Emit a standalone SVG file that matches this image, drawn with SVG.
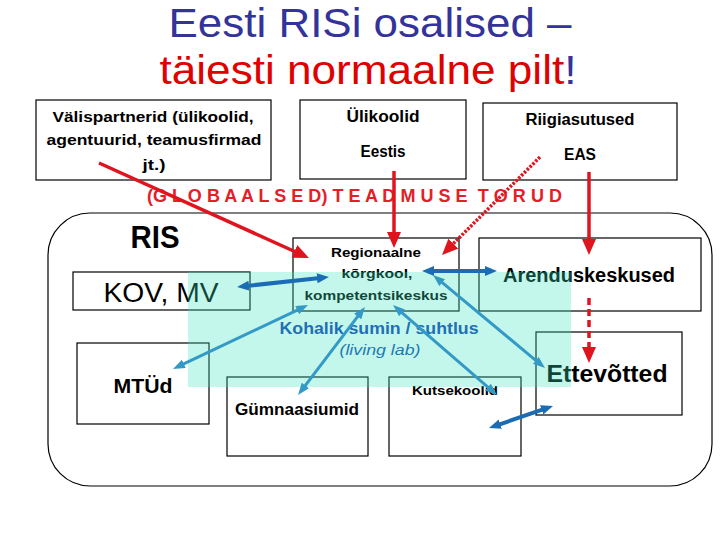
<svg xmlns="http://www.w3.org/2000/svg" width="720" height="540" viewBox="0 0 720 540">
<style>
.box{fill:#fff;stroke:#000;stroke-width:1.2}
.lbl{font-family:"Liberation Sans",Arial,sans-serif;font-weight:bold;fill:#000;text-anchor:middle}
.red{fill:none;stroke:#e0141e;stroke-width:3.5}
.blu{fill:none;stroke:#1a6cb5;stroke-width:4}
.cya{fill:none;stroke:#3399c6;stroke-width:3}
</style>
<defs>
<marker id="ar" markerUnits="userSpaceOnUse" markerWidth="16" markerHeight="14" refX="4" refY="7" orient="auto"><path d="M0,0 L16,7 L0,14 z" fill="#e0141e"/></marker>
<marker id="ab" markerUnits="userSpaceOnUse" markerWidth="12" markerHeight="10" refX="3" refY="5" orient="auto-start-reverse"><path d="M0,0 L12,5 L0,10 z" fill="#1a6cb5"/></marker>
<marker id="ac" markerUnits="userSpaceOnUse" markerWidth="12" markerHeight="9" refX="3" refY="4.5" orient="auto-start-reverse"><path d="M0,0 L12,4.5 L0,9 z" fill="#3399c6"/></marker>
</defs>
<rect width="720" height="540" fill="#fff"/>
<g id="title" font-family="'Liberation Sans',Arial,sans-serif" font-size="40" text-anchor="middle">
<text x="370" y="37" fill="#333399" textLength="403" lengthAdjust="spacingAndGlyphs">Eesti RISi osalised –</text>
<text x="368" y="84" textLength="417" lengthAdjust="spacingAndGlyphs"><tspan fill="#e00000">täiesti normaalne pilt</tspan><tspan fill="#333399">!</tspan></text>
</g>
<g id="ris-frame"><rect x="48" y="213" width="664" height="273" rx="42" ry="42" fill="#fff" stroke="#000" stroke-width="1.2"/></g>
<g id="valispartnerid">
<rect class="box" x="36" y="100" width="235" height="80"/>
<text class="lbl" font-size="15" x="153" y="122" textLength="201" lengthAdjust="spacingAndGlyphs">Välispartnerid (ülikoolid,</text>
<text class="lbl" font-size="15" x="154" y="145" textLength="215" lengthAdjust="spacingAndGlyphs">agentuurid, teamusfirmad</text>
<text class="lbl" font-size="15" x="154" y="170" textLength="23" lengthAdjust="spacingAndGlyphs">jt.)</text>
</g>
<g id="ulikoolid">
<rect class="box" x="300" y="100" width="166" height="79"/>
<text class="lbl" font-size="16" x="383" y="122" textLength="73" lengthAdjust="spacingAndGlyphs">Ülikoolid</text>
<text class="lbl" font-size="16" x="383" y="157" textLength="45" lengthAdjust="spacingAndGlyphs">Eestis</text>
</g>
<g id="riigiasutused">
<rect class="box" x="483" y="103" width="194" height="77"/>
<text class="lbl" font-size="16" x="580" y="125" textLength="109" lengthAdjust="spacingAndGlyphs">Riigiasutused</text>
<text class="lbl" font-size="16" x="580" y="160" textLength="32" lengthAdjust="spacingAndGlyphs">EAS</text>
</g>
<g id="torud"><text x="147" y="202" xml:space="preserve" style="white-space:pre" font-family="'Liberation Sans',Arial,sans-serif" font-weight="bold" font-size="18" fill="#e32028" textLength="415" lengthAdjust="spacing">(G L O B A A L S E D) T E A D M U S E  T O R U D</text></g>
<g id="ris-label"><text class="lbl" font-size="31" x="155" y="248" textLength="49" lengthAdjust="spacingAndGlyphs">RIS</text></g>
<g id="kov">
<rect class="box" x="73" y="272" width="177" height="38"/>
<text x="161" y="302" font-family="'Liberation Sans',Arial,sans-serif" font-size="27" text-anchor="middle" textLength="115" lengthAdjust="spacingAndGlyphs">KOV, MV</text>
</g>
<g id="regionaalne">
<rect class="box" x="293" y="238" width="166" height="73"/>
<text class="lbl" font-size="13.5" x="376" y="257" textLength="90" lengthAdjust="spacingAndGlyphs">Regionaalne</text>
<text class="lbl" font-size="13.5" x="377" y="278" textLength="71" lengthAdjust="spacingAndGlyphs">kõrgkool,</text>
<text class="lbl" font-size="13.5" x="376" y="300" textLength="143" lengthAdjust="spacingAndGlyphs">kompetentsikeskus</text>
</g>
<g id="arenduskeskused">
<rect class="box" x="479" y="238" width="222" height="73"/>
<text class="lbl" font-size="20" x="589" y="282" textLength="172" lengthAdjust="spacingAndGlyphs">Arenduskeskused</text>
</g>
<g id="mtud">
<rect class="box" x="77" y="343" width="132" height="81"/>
<text class="lbl" font-size="20" x="143" y="393" textLength="59" lengthAdjust="spacingAndGlyphs">MTÜd</text>
</g>
<g id="gymnaasiumid">
<rect class="box" x="227" y="377" width="141" height="79"/>
<text class="lbl" font-size="16" x="297" y="415" textLength="124" lengthAdjust="spacingAndGlyphs">Gümnaasiumid</text>
</g>
<g id="kutsekoolid">
<rect class="box" x="389" y="377" width="132" height="79"/>
<text class="lbl" font-size="13" x="455" y="395" textLength="86" lengthAdjust="spacingAndGlyphs">Kutsekoolid</text>
</g>
<g id="ettevotted">
<rect class="box" x="536" y="332" width="146" height="83"/>
<text class="lbl" font-size="24" x="607" y="382" textLength="121" lengthAdjust="spacingAndGlyphs">Ettevõtted</text>
</g>
<g id="kohalik-sumin">
<rect x="188" y="272" width="383" height="115" fill="rgb(60,230,190)" fill-opacity="0.3"/>
<text x="379" y="334" font-family="'Liberation Sans',Arial,sans-serif" font-weight="bold" font-size="16" fill="#1f6fb5" text-anchor="middle" textLength="199" lengthAdjust="spacingAndGlyphs">Kohalik sumin / suhtlus</text>
<text x="380" y="355" font-family="'Liberation Sans',Arial,sans-serif" font-style="italic" font-size="15" fill="#1f78b4" text-anchor="middle" textLength="81" lengthAdjust="spacingAndGlyphs">(living lab)</text>
</g>
<g id="connectors">
<path class="red" d="M99,163 L298,253" marker-end="url(#ar)"/>
<path class="red" d="M394,171 L394,236" marker-end="url(#ar)"/>
<path class="red" d="M589,172 L589,243" marker-end="url(#ar)"/>
<path class="red" d="M540,157 L450.5,246.5" stroke-width="4" stroke-dasharray="2.5 1.5" marker-end="url(#ar)"/>
<path class="red" d="M589,298 L589,351" stroke-width="4" stroke-dasharray="7 4" marker-end="url(#ar)"/>
<path class="blu" d="M246,286 L320,278" marker-start="url(#ab)" marker-end="url(#ab)"/>
<path class="blu" d="M431,271 L488,271" marker-start="url(#ab)" marker-end="url(#ab)"/>
<path class="blu" d="M497.5,425.1 L544.5,408.9" marker-start="url(#ab)" marker-end="url(#ab)"/>
<path class="cya" d="M181.1,365.1 L299.9,308.9" marker-start="url(#ac)" marker-end="url(#ac)"/>
<path class="cya" d="M303.5,387.8 L359.5,314.2" marker-start="url(#ac)" marker-end="url(#ac)"/>
<path class="cya" d="M490.2,389.1 L399.8,310.9" marker-start="url(#ac)" marker-end="url(#ac)"/>
<path class="cya" d="M439.9,280.7 L538.1,362.3" marker-start="url(#ac)" marker-end="url(#ac)"/>
</g>
</svg>
